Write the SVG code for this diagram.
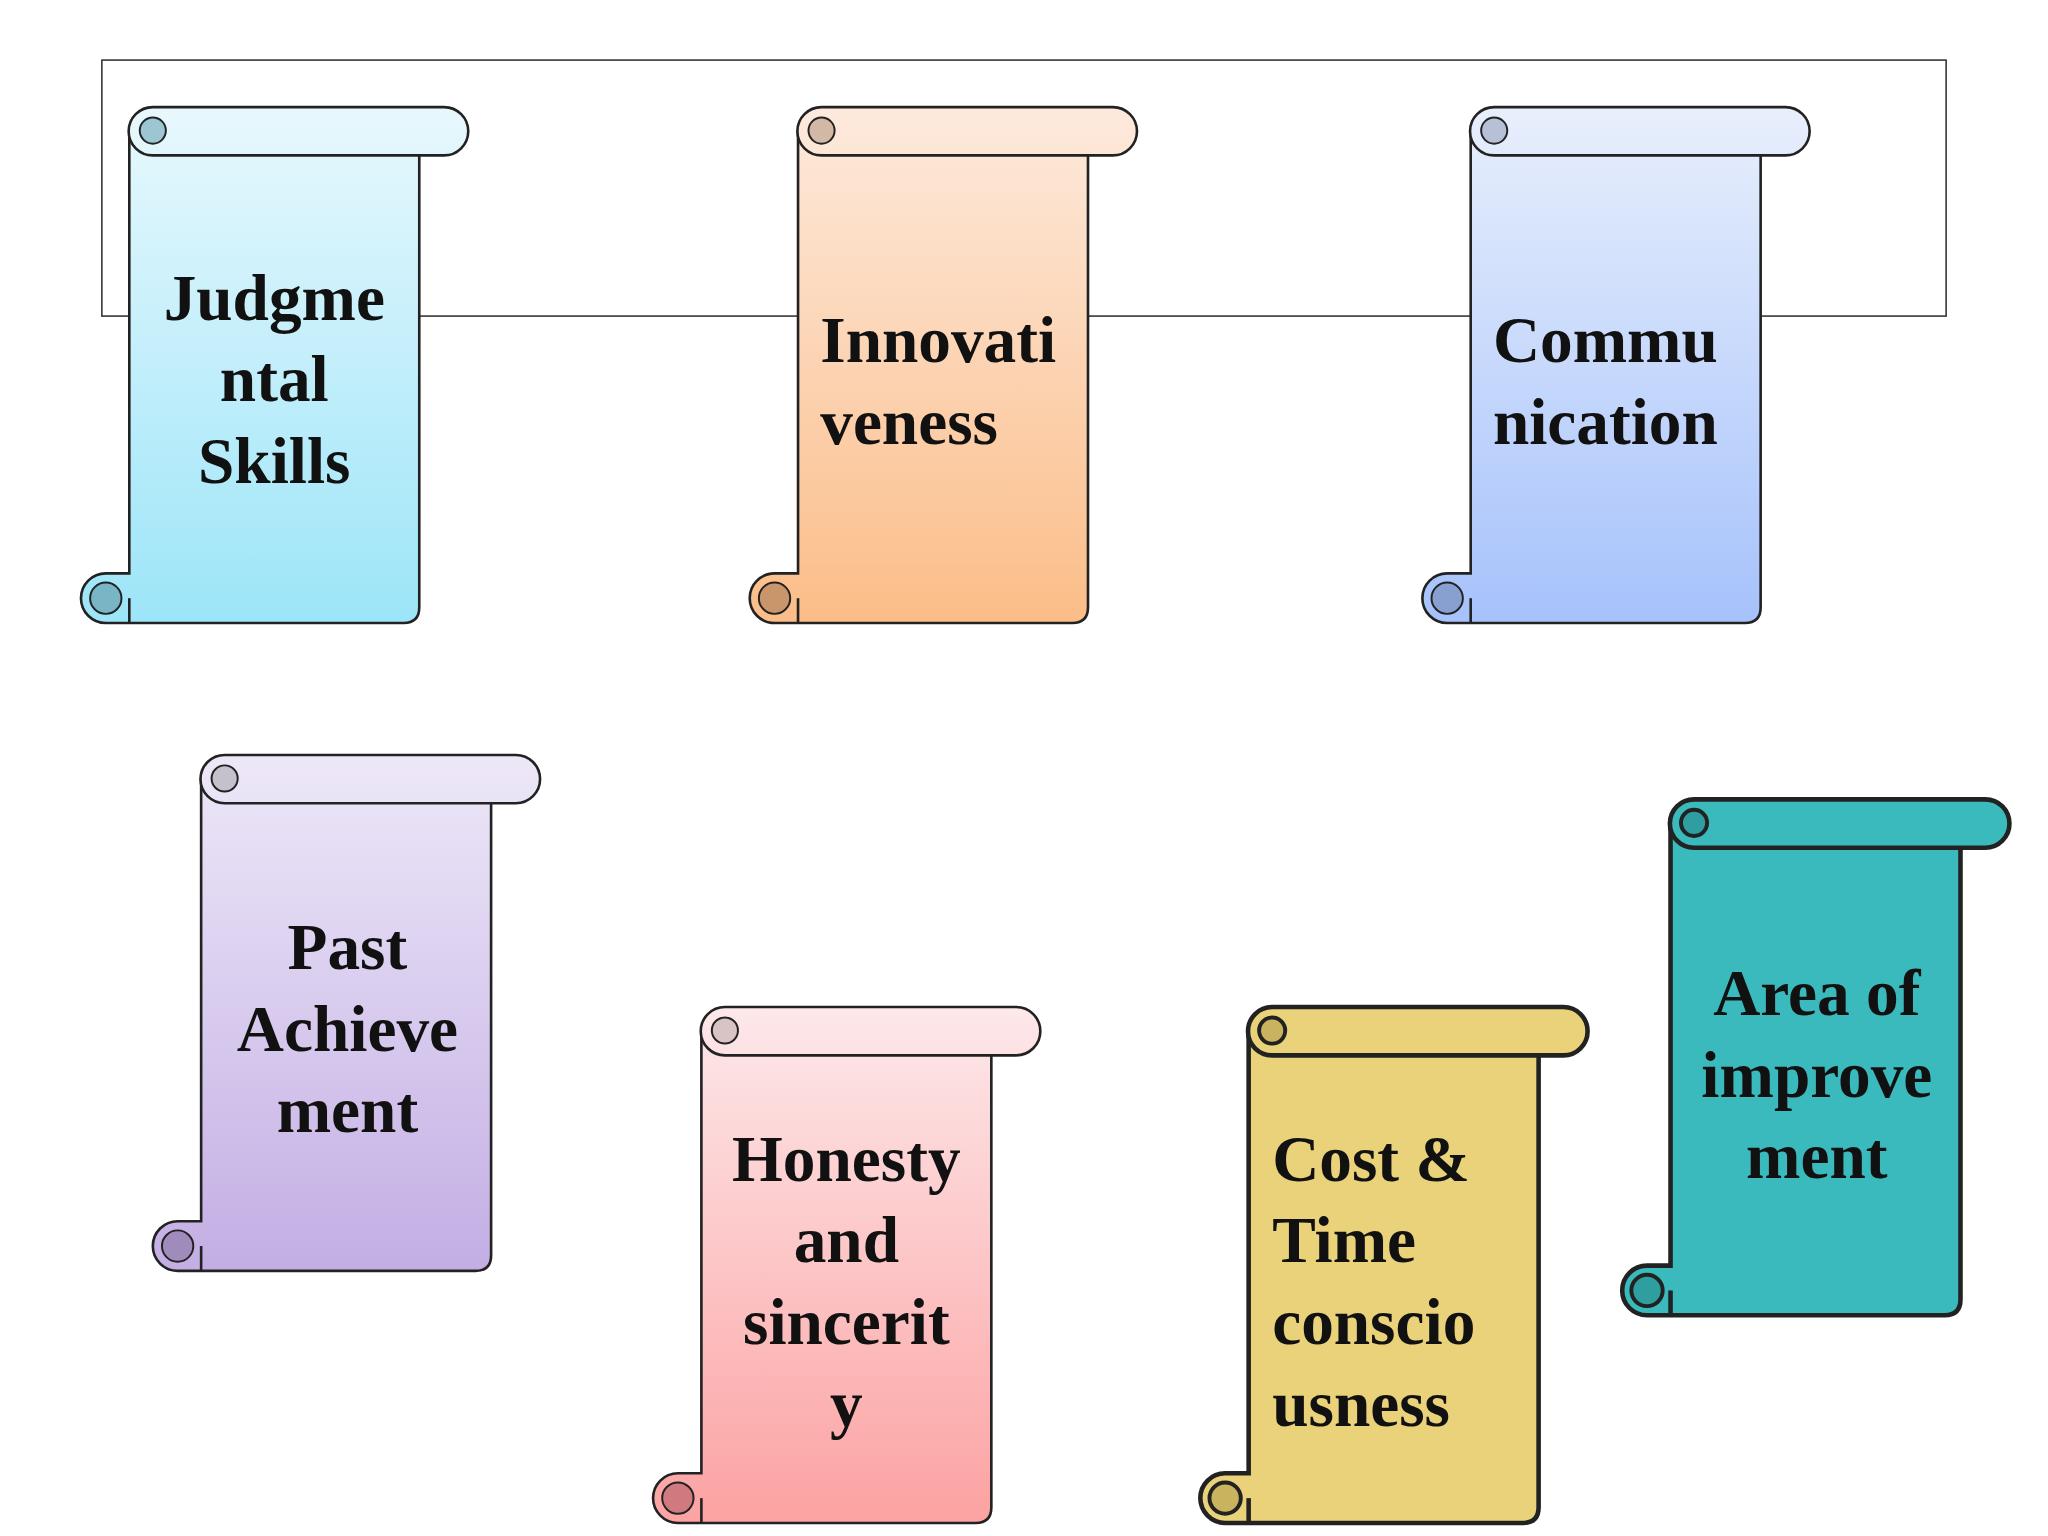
<svg xmlns="http://www.w3.org/2000/svg" width="2048" height="1536" viewBox="0 0 2048 1536">
<defs>
<linearGradient id="g1" gradientUnits="userSpaceOnUse" x1="0" y1="0" x2="0" y2="395"><stop offset="0" stop-color="#e8f8fd"/><stop offset="1" stop-color="#9ce5f8"/></linearGradient>
<linearGradient id="g2" gradientUnits="userSpaceOnUse" x1="0" y1="0" x2="0" y2="395"><stop offset="0" stop-color="#fdeadd"/><stop offset="1" stop-color="#fbbd88"/></linearGradient>
<linearGradient id="g3" gradientUnits="userSpaceOnUse" x1="0" y1="0" x2="0" y2="395"><stop offset="0" stop-color="#e8effc"/><stop offset="1" stop-color="#a6c2fb"/></linearGradient>
<linearGradient id="g4" gradientUnits="userSpaceOnUse" x1="0" y1="0" x2="0" y2="395"><stop offset="0" stop-color="#ede8f8"/><stop offset="1" stop-color="#c3aee4"/></linearGradient>
<linearGradient id="g5" gradientUnits="userSpaceOnUse" x1="0" y1="0" x2="0" y2="395"><stop offset="0" stop-color="#fde8ea"/><stop offset="1" stop-color="#fca2a2"/></linearGradient>
<g id="scroll">
<path d="M0,18 L0,357 L-18,357 A19,19 0 0 0 -18,395 L210,395 Q222,395 222,383 L222,37"/>
<path d="M18,0 L241,0 A18.5,18.5 0 0 1 241,37 L18,37 A18.5,18.5 0 0 1 18,0 Z"/>
<path d="M0,376 L0,395" fill="none"/>
</g>
</defs>
<style>
.s{stroke:#222;stroke-width:2}
.t{stroke:#222;stroke-width:3.5}
.c{stroke:#222;stroke-width:1.5}
text{font-family:"Liberation Serif",serif;font-weight:bold;font-size:50px;fill:#111}
.m{text-anchor:middle}
</style>
<g transform="scale(1.30612)">
<g id="connectors"><rect x="78" y="46" width="1412" height="196" fill="none" stroke="#333" stroke-width="1.2"/></g>

<g id="n1" transform="translate(99,82)"><use href="#scroll" class="s" fill="url(#g1)"/><circle cx="18" cy="18" r="10" fill="#9cc7d2" class="c"/><circle cx="-18" cy="376" r="12" fill="#78b6c6" class="c"/></g>
<g id="n2" transform="translate(611,82)"><use href="#scroll" class="s" fill="url(#g2)"/><circle cx="18" cy="18" r="10" fill="#d2b9a5" class="c"/><circle cx="-18" cy="376" r="12" fill="#c9956a" class="c"/></g>
<g id="n3" transform="translate(1126,82)"><use href="#scroll" class="s" fill="url(#g3)"/><circle cx="18" cy="18" r="10" fill="#b6c0d6" class="c"/><circle cx="-18" cy="376" r="12" fill="#87a0d0" class="c"/></g>
<g id="n4" transform="translate(154,578)"><use href="#scroll" class="s" fill="url(#g4)"/><circle cx="18" cy="18" r="10" fill="#c6c0cc" class="c"/><circle cx="-18" cy="376" r="12" fill="#a08cbc" class="c"/></g>
<g id="n5" transform="translate(537,771)"><use href="#scroll" class="s" fill="url(#g5)"/><circle cx="18" cy="18" r="10" fill="#d8c4c4" class="c"/><circle cx="-18" cy="376" r="12" fill="#d07a80" class="c"/></g>
<g id="n6" transform="translate(956,771)"><use href="#scroll" class="t" fill="#e9d27a"/><circle cx="18" cy="18" r="10" fill="#c9b35e" stroke="#222" stroke-width="3"/><circle cx="-18" cy="376" r="12" fill="#c9b35e" stroke="#222" stroke-width="3"/></g>
<g id="n7" transform="translate(1279,612)"><use href="#scroll" class="t" fill="#3bbabd"/><circle cx="18" cy="18" r="10" fill="#2e9ea1" stroke="#222" stroke-width="3"/><circle cx="-18" cy="376" r="12" fill="#2e9ea1" stroke="#222" stroke-width="3"/></g>

<text class="m" x="210" y="245">Judgme</text><text class="m" x="210" y="307">ntal</text><text class="m" x="210" y="370">Skills</text>
<text x="628" y="277">Innovati</text><text x="628" y="340">veness</text>
<text x="1143" y="277">Commu</text><text x="1143" y="340">nication</text>
<text class="m" x="266" y="742">Past</text><text class="m" x="266" y="805">Achieve</text><text class="m" x="266" y="867">ment</text>
<text class="m" x="648" y="904">Honesty</text><text class="m" x="648" y="966">and</text><text class="m" x="648" y="1029">sincerit</text><text class="m" x="648" y="1092">y</text>
<text x="974" y="904">Cost &amp;</text><text x="974" y="966">Time</text><text x="974" y="1029">conscio</text><text x="974" y="1092">usness</text>
<text class="m" x="1391" y="777">Area of</text><text class="m" x="1391" y="840">improve</text><text class="m" x="1391" y="902">ment</text>
</g>
</svg>
